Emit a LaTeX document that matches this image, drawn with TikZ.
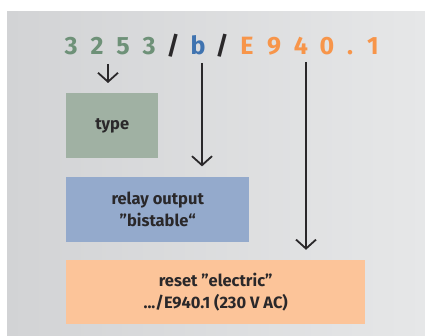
\documentclass[tikz,border=0pt]{standalone}
\usepackage{fontspec}
\setmainfont{Fira Sans}
\usetikzlibrary{arrows.meta,positioning}
\definecolor{bgleft}{HTML}{D2D3D5}
\definecolor{bgright}{HTML}{E6E7E8}
\definecolor{codegreen}{HTML}{6E9178}
\definecolor{codeblue}{HTML}{3F73B0}
\definecolor{codeorange}{HTML}{F7954A}
\definecolor{textdark}{HTML}{2A282A}
\definecolor{filltype}{HTML}{A0B1A3}
\definecolor{fillrelay}{HTML}{94AACC}
\definecolor{fillreset}{HTML}{FCC499}
\tikzset{
  digit/.style={font=\fontsize{25}{25}\selectfont\bfseries, inner sep=0pt, anchor=base},
  infobox/.style={align=center, font=\fontsize{16.5}{22}\selectfont\bfseries, text=textdark,
    minimum height=65pt, inner sep=0pt},
  arr/.style={-{Straight Barb[length=9pt,width=20pt,line width=1.8pt]}, line width=1.8pt, draw=textdark},
}

\begin{document}
\begin{tikzpicture}[x=1pt, y=-1pt]
\useasboundingbox (0,0) rectangle (425,336);

\shade[left color=bgleft, right color=bgright] (7,12) rectangle (425,336);

% type code
\foreach \x/\ch/\col [count=\i] in {71/3/codegreen, 97/2/codegreen, 123/5/codegreen, 149/3/codegreen,
    173/{/}/textdark, 198/b/codeblue, 222/{/}/textdark,
    247/E/codeorange, 274/9/codeorange, 301/4/codeorange, 327/0/codeorange, 350/./codeorange, 373/1/codeorange}
  \node[digit, text=\col] (c\i) at (\x,55) {\ch};

\node[infobox, fill=filltype, minimum width=92pt, anchor=north west] (type) at (66,93) {type};
\node[infobox, fill=fillrelay, minimum width=183pt, below=18pt of type.south west, anchor=north west] (relay) {relay output\\”bistable“};
\node[infobox, fill=fillreset, minimum width=299pt, minimum height=64pt, below=18pt of relay.south west, anchor=north west] (reset) {reset ”electric”\\.../E940.1 (230 V AC)};

\coordinate (s1) at (108,64);
\coordinate (s2) at (202,63);
\coordinate (s3) at (306,62);

\draw[arr, shorten >=10pt] (s1) -- (s1 |- type.north);
\draw[arr, shorten >=10pt] (s2) -- (s2 |- relay.north);
\draw[arr, shorten >=10pt] (s3) -- (s3 |- reset.north);

\end{tikzpicture}
\end{document}
